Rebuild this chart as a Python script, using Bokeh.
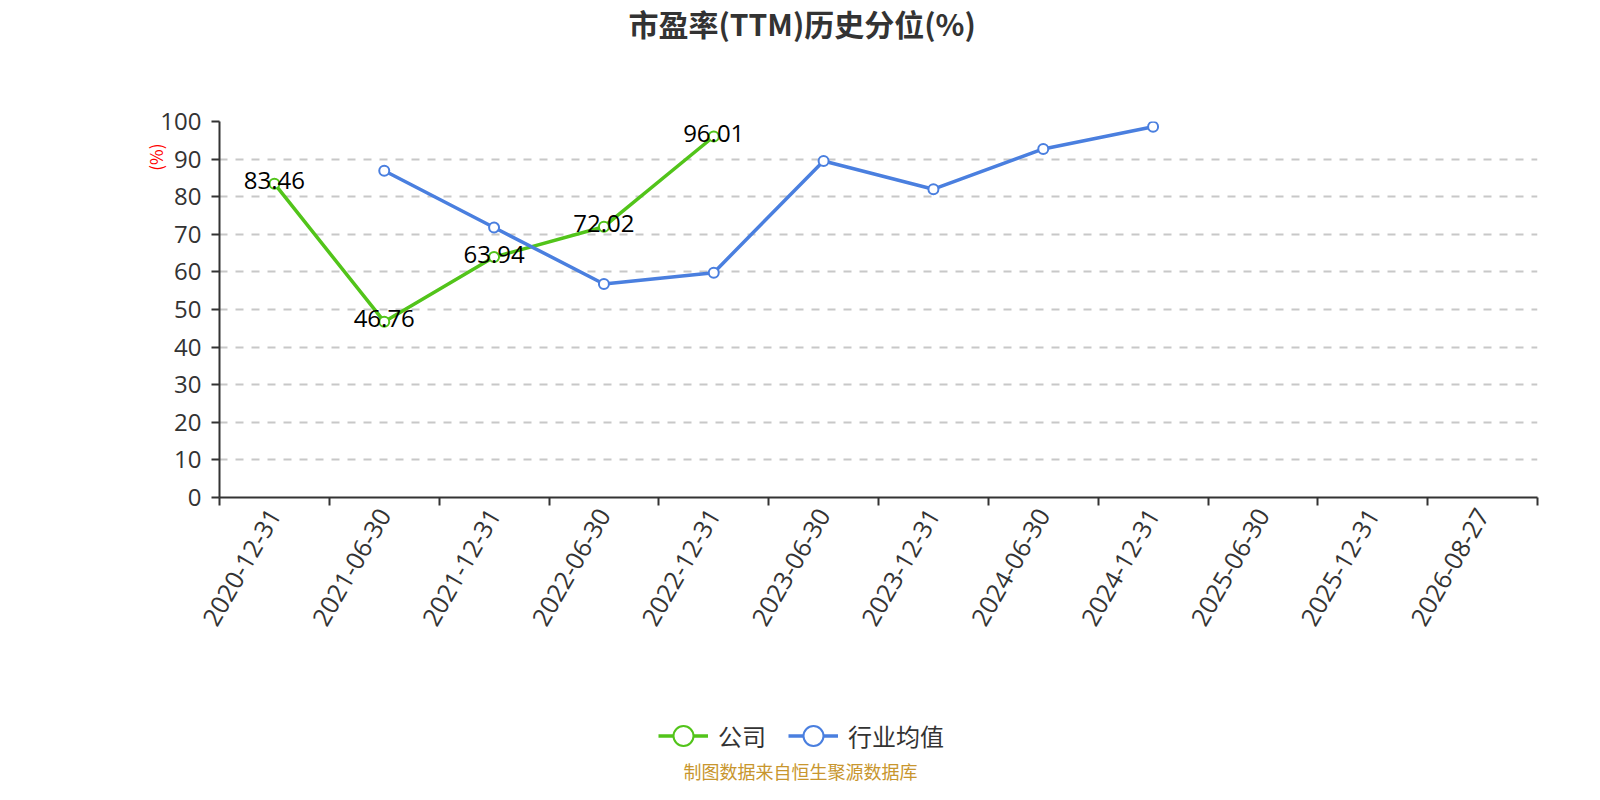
import math
from bokeh.plotting import figure
from bokeh.layouts import column
from bokeh.models import (ColumnDataSource, FixedTicker, Range1d, Legend,
                          LegendItem, LabelSet, Title, Label)
from bokeh.core.properties import value
from bokeh.embed import file_html
from bokeh.resources import INLINE

# ---------------- data ----------------
categories = ["2020-12-31", "2021-06-30", "2021-12-31", "2022-06-30",
              "2022-12-31", "2023-06-30", "2023-12-31", "2024-06-30",
              "2024-12-31", "2025-06-30", "2025-12-31", "2026-08-27"]
company_dates = ["2020-12-31", "2021-06-30", "2021-12-31", "2022-06-30", "2022-12-31"]
company_values = [83.46, 46.76, 63.94, 72.02, 96.01]
industry_dates = ["2021-06-30", "2021-12-31", "2022-06-30", "2022-12-31",
                  "2023-06-30", "2023-12-31", "2024-06-30", "2024-12-31"]
industry_values = [86.9, 71.8, 56.8, 59.8, 89.5, 82.0, 92.7, 98.6]
y_ticks = [0, 10, 20, 30, 40, 50, 60, 70, 80, 90, 100]

title_text = "市盈率(TTM)历史分位(%)"
y_unit = "(%)"
footer_text = "制图数据来自恒生聚源数据库"
series_names = ["公司", "行业均值"]

GREEN = "#52c41a"
BLUE = "#4a7fdf"
TXT = "#333333"
CJK = "Noto Sans CJK SC"
NUM = "Open Sans"

def pos(d):
    return categories.index(d) + 0.5

comp_src = ColumnDataSource(dict(
    x=[pos(d) for d in company_dates], y=company_values,
    t=["%.2f" % v for v in company_values]))
ind_src = ColumnDataSource(dict(
    x=[pos(d) for d in industry_dates], y=industry_values))

W = 1584
H1 = 660          # main chart
H2 = 124          # legend + footer strip
ML, MR, MT = 219, 47, 121
MB = H1 - MT - 376

p = figure(width=W, height=H1, x_range=Range1d(0, len(categories)),
           y_range=Range1d(0, 100), toolbar_location=None,
           output_backend="svg", min_border_left=ML, min_border_right=MR,
           min_border_top=MT, min_border_bottom=MB)
p.outline_line_color = None
p.background_fill_color = "white"
p.border_fill_color = "white"

# title (outermost in the top panel), spacer between it and the frame
p.title.text = title_text
p.title.align = "left"
p.title.offset = 409
p.title.standoff = 0
p.title.vertical_align = "top"
p.title.text_font = CJK
p.title.text_font_size = "30px"
p.title.text_font_style = "bold"
p.title.text_color = TXT
p.add_layout(Title(text=" ", text_font_size="1px", standoff=72), "above")

# x axis: ticks at band boundaries, labels at band centres
xa = p.xaxis[0]
xa.ticker = FixedTicker(ticks=[i + 0.5 for i in range(len(categories))],
                        minor_ticks=list(range(len(categories) + 1)))
xa.major_label_overrides = {i + 0.5: c for i, c in enumerate(categories)}
xa.major_tick_in = 0
xa.major_tick_out = 0
xa.minor_tick_in = 0
xa.minor_tick_out = 8
xa.minor_tick_line_color = TXT
xa.minor_tick_line_width = 2
xa.axis_line_color = TXT
xa.axis_line_width = 2
xa.major_label_orientation = math.pi / 3
xa.major_label_text_font = NUM
xa.major_label_text_font_size = "25px"
xa.major_label_text_color = TXT
xa.major_label_standoff = 5

ya = p.yaxis[0]
ya.ticker = FixedTicker(ticks=y_ticks)
ya.minor_tick_line_color = None
ya.major_tick_in = 0
ya.major_tick_out = 8
ya.major_tick_line_color = TXT
ya.major_tick_line_width = 2
ya.axis_line_color = TXT
ya.axis_line_width = 2
ya.major_label_text_font = NUM
ya.major_label_text_font_size = "24px"
ya.major_label_text_color = TXT
ya.major_label_standoff = 10

# unit label on the left, near the top
p.add_layout(Title(text=y_unit, align="right", offset=22, standoff=-20,
                   text_font=CJK, text_font_size="17px",
                   text_font_style="normal", text_color="#ff0000"), "left")

p.xgrid.visible = False
p.ygrid.ticker = FixedTicker(ticks=y_ticks)
p.ygrid.grid_line_color = "#c8c8c8"
p.ygrid.grid_line_width = 2
p.ygrid.grid_line_dash = "8 8"

# series
def draw_series(fig):
    g_l = fig.line("x", "y", source=comp_src, line_color=GREEN, line_width=3.5)
    g_s = fig.scatter("x", "y", source=comp_src, size=10, marker="circle",
                      fill_color="white", line_color=GREEN, line_width=2)
    b_l = fig.line("x", "y", source=ind_src, line_color=BLUE, line_width=3.5)
    b_s = fig.scatter("x", "y", source=ind_src, size=10, marker="circle",
                      fill_color="white", line_color=BLUE, line_width=2)
    return g_l, g_s, b_l, b_s

draw_series(p)

labels = LabelSet(x="x", y="y", text="t", source=comp_src,
                  text_align="center", text_baseline="middle", y_offset=3,
                  text_font=value(NUM), text_font_size="24px",
                  text_color="#000000")
p.add_layout(labels)

# ---------------- legend + footer strip ----------------
q = figure(width=W, height=H2, x_range=Range1d(ML, W - MR), y_range=Range1d(0, H2),
           toolbar_location=None, output_backend="svg",
           x_axis_type=None, y_axis_type=None,
           min_border_left=ML, min_border_right=MR,
           min_border_top=0, min_border_bottom=0)
q.outline_line_color = None
q.background_fill_color = "white"
q.border_fill_color = "white"

# the same series, lying outside this strip's x range: they only feed the legend
kl, ks, il, is_ = draw_series(q)

legend = Legend(items=[LegendItem(label=series_names[0], renderers=[kl, ks]),
                       LegendItem(label=series_names[1], renderers=[il, is_])],
                orientation="horizontal", location=(439, 21),
                glyph_width=50, glyph_height=55, label_standoff=10,
                spacing=22, padding=0, margin=0,
                border_line_color=None, background_fill_alpha=0,
                label_text_font=CJK, label_text_font_size="24px",
                label_text_color=TXT)
q.add_layout(legend)

q.add_layout(Label(x=800, y=14, text=footer_text, text_align="center",
                   text_baseline="middle", text_font=CJK,
                   text_font_size="18px", text_color="#c8962e"))

open("out.html", "w").write(file_html(column(p, q, spacing=0), INLINE))
